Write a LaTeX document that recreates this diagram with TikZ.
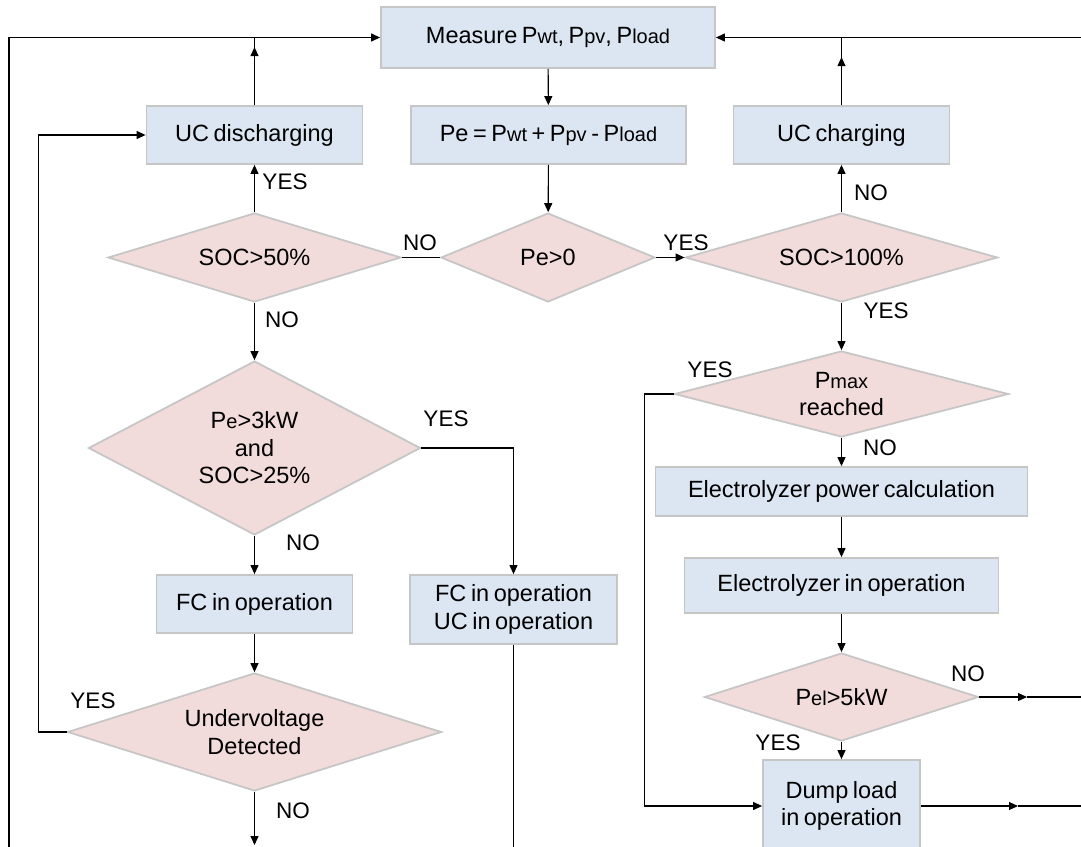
\documentclass[tikz,border=0pt]{standalone}
\usepackage{fontspec}
\setmainfont{Liberation Sans}[WordSpace=0.7]
\usetikzlibrary{shapes.geometric,arrows.meta}
\definecolor{boxfill}{HTML}{DCE6F2}
\definecolor{decfill}{HTML}{F2DCDB}
\definecolor{edgegray}{HTML}{C6C6C6}
% smaller index letters set on the baseline (P_wt, P_max, ...)
\newcommand\idx[1]{{\fontsize{20}{20}\selectfont #1}}

\begin{document}
\begin{tikzpicture}[x=1pt,y=-1pt,
  font=\fontsize{23.5}{27.5}\selectfont,
  proc/.style={draw=edgegray, line width=1.8pt, fill=boxfill, inner sep=0pt, align=center},
  dec/.style={diamond, draw=edgegray, line width=1.8pt, fill=decfill, inner sep=0pt, align=center},
  flow/.style={line width=1.1pt, -{Triangle[length=9pt,width=8pt]}},
  link/.style={line width=1.1pt},
  lbl/.style={inner sep=0pt, font=\fontsize{22.5}{25}\selectfont}]

\useasboundingbox (0,0) rectangle (1081,846);
\clip (0,0) rectangle (1081,846);

% ---- process boxes
\node[proc, minimum width=334pt, minimum height=61pt] (meas) at (548,37.5) {Measure P\idx{wt}, P\idx{pv}, P\idx{load}};
\node[proc, minimum width=275pt, minimum height=58pt] (pebox) at (548.5,135) {Pe = P\idx{wt} + P\idx{pv} - P\idx{load}};
\node[proc, minimum width=216pt, minimum height=58pt] (ucd) at (254.5,135) {UC discharging};
\node[proc, minimum width=216pt, minimum height=58pt] (ucc) at (841.5,135) {UC charging};
\node[proc, minimum width=196pt, minimum height=58pt] (fc) at (254.5,604) {FC in operation};
\node[proc, minimum width=207pt, minimum height=69pt] (fcuc) at (513.5,609.5) {FC in operation\\UC in operation};
\node[proc, minimum width=372pt, minimum height=49pt] (epc) at (841.5,491.5) {Electrolyzer power calculation};
\node[proc, minimum width=314pt, minimum height=55pt] (eio) at (841.5,585.5) {Electrolyzer in operation};
\node[proc, minimum width=157pt, minimum height=92pt] (dump) at (841.5,806) {Dump load\\in operation};

% ---- decisions
\node[dec, minimum width=293pt, minimum height=89pt, aspect=3.3] (soc50) at (254.5,257.5) {SOC>50\%};
\node[dec, minimum width=214pt, minimum height=89pt, aspect=2.4] (pe0) at (548,257.5) {Pe>0};
\node[dec, minimum width=312pt, minimum height=89pt, aspect=3.5] (soc100) at (841.5,257.5) {SOC>100\%};
\node[dec, minimum width=332pt, minimum height=174pt, aspect=1.9] (pe3) at (254.5,448) {P\idx{e}>3kW\\and\\SOC>25\%};
\node[dec, minimum width=374pt, minimum height=118pt, aspect=3.17] (uv) at (254.5,732) {Undervoltage\\Detected};
\node[dec, minimum width=334pt, minimum height=86pt, aspect=3.88] (pmax) at (841.5,394) {P\idx{max}\\reached};
\node[dec, minimum width=274pt, minimum height=88pt, aspect=3.1] (pel) at (841.5,697) {P\idx{el}>5kW};

% ---- loose ends of the feedback lines
\coordinate (leftbot) at (9,850);
\coordinate (righttop) at (1085,37.5);
\coordinate (uvout) at (254.5,845);
\coordinate (fcucout) at (513.5,850);
\coordinate (pelmid) at (1027,697);
\coordinate (pelout) at (1085,697);
\coordinate (dumpmid) at (1018,806);
\coordinate (dumpout) at (1085,806);

% ---- connectors
\draw[flow] (meas) -- (pebox);
\draw[flow] (pebox) -- (pe0);
\draw[link] (pe0.west) -- (soc50.east);
\draw[flow] (pe0.east) -- (soc100.west);
\draw[flow] (soc50.north) -- (ucd.south);
\draw[flow] (soc100.north) -- (ucc.south);

\draw[flow] (ucd.north) -- ++(0,-58);
\draw[link] (ucd.north) -- (ucd.north |- meas.west);
\draw[flow] (ucc.north) -- ++(0,-48);
\draw[link] (ucc.north) -- (ucc.north |- meas.east);
\draw[flow] (leftbot) |- (meas.west);
\draw[flow] (righttop) -- (meas.east);

\draw[flow] (soc50.south) -- (pe3.north);
\draw[flow] (pe3.east) -| (fcuc.north);
\draw[flow] (pe3.south) -- (fc.north);
\draw[flow] (fc.south) -- (uv.north);
\draw[flow] (uv.west) -- ++(-28.5,0) |- (ucd.west);
\draw[flow] (uv.south) -- (uvout);
\draw[link] (fcuc.south) -- (fcucout);

\draw[flow] (soc100.south) -- (pmax.north);
\draw[flow] (pmax.west) -- ++(-29,0) |- (dump.west);
\draw[flow] (pmax.south) -- (epc.north);
\draw[flow] (epc.south) -- (eio.north);
\draw[flow] (eio.south) -- (pel.north);
\draw[flow] (pel.south) -- (dump.north);
\draw[flow] (pel.east) -- (pelmid);
\draw[link] (pelmid) -- (pelout);
\draw[flow] (dump.east) -- (dumpmid);
\draw[link] (dumpmid) -- (dumpout);

% ---- branch labels
\node[lbl] (l1) at (285,182) {YES};
\node[lbl] (l2) at (420,243) {NO};
\node[lbl] (l3) at (686,243) {YES};
\node[lbl] (l4) at (871,193) {NO};
\node[lbl] (l5) at (282,320) {NO};
\node[lbl] (l6) at (886,311) {YES};
\node[lbl] (l7) at (710,370) {YES};
\node[lbl] (l8) at (880,448) {NO};
\node[lbl] (l9) at (446,419) {YES};
\node[lbl] (l10) at (303,543) {NO};
\node[lbl] (l11) at (93,701) {YES};
\node[lbl] (l12) at (293,811) {NO};
\node[lbl] (l13) at (968,674) {NO};
\node[lbl] (l14) at (778,743) {YES};
\end{tikzpicture}
\end{document}
